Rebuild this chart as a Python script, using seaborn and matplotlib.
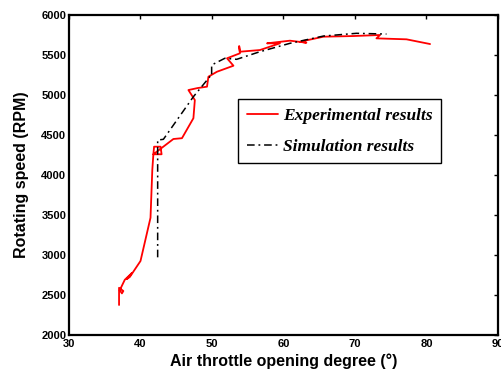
import matplotlib
matplotlib.use("Agg")
import matplotlib.pyplot as plt
import seaborn as sns
import pandas as pd

# Experimental results (red)
exp_x = [37.0, 37.0, 37.6, 37.4, 37.1, 37.8, 38.8, 38.1, 38.5, 40.0, 41.4, 41.65,
         41.8, 41.9, 42.8, 42.95, 41.8, 44.6, 45.8, 47.4, 47.6, 46.7, 48.0, 49.3,
         49.5, 50.7, 53.0, 52.1, 53.9, 53.8, 53.9, 56.7, 59.5, 57.7, 60.9, 63.2,
         62.3, 65.6, 69.8, 73.5, 73.0, 77.2, 80.5]
exp_y = [2375, 2590, 2550, 2520, 2560, 2690, 2775, 2700, 2725, 2925, 3466, 4062,
         4259, 4354, 4354, 4259, 4259, 4450, 4460, 4710, 4937, 5062, 5087, 5104,
         5229, 5291, 5366, 5459, 5521, 5612, 5541, 5562, 5646, 5646, 5679, 5654,
         5666, 5729, 5737, 5750, 5708, 5696, 5637]

# Simulation results (black dash-dot)
sim_x = [42.4, 42.4, 43.2, 47.4, 49.7, 49.95, 49.95, 51.8, 53.45, 56.7, 60.9,
         65.6, 70.2, 74.4]
sim_y = [2971, 4437, 4446, 4979, 5229, 5229, 5375, 5459, 5446, 5541, 5646,
         5737, 5771, 5762]

x_ticks = [30, 40, 50, 60, 70, 80, 90]
y_ticks = [2000, 2500, 3000, 3500, 4000, 4500, 5000, 5500, 6000]

sns.set_style("white")
plt.rcParams["text.color"] = "black"
plt.rcParams["axes.labelcolor"] = "black"
fig = plt.figure(figsize=(5.02, 3.73), dpi=100)
ax = fig.add_axes([69/502, 38/373, 429/502, 320/373])

df_exp = pd.DataFrame({"x": exp_x, "y": exp_y})
df_sim = pd.DataFrame({"x": sim_x, "y": sim_y})

sns.lineplot(data=df_exp, x="x", y="y", sort=False, estimator=None, ax=ax,
             color="#ff0000", linewidth=1.3, label="Experimental results")
sns.lineplot(data=df_sim, x="x", y="y", sort=False, estimator=None, ax=ax,
             color="black", linewidth=1.1, label="Simulation results")
ax.lines[1].set_dashes([5, 2.5, 1.2, 2.5])

ax.set_xlim(30, 90)
ax.set_ylim(2000, 6000)
ax.set_xticks(x_ticks)
ax.set_yticks(y_ticks)
ax.set_xticklabels([str(t) for t in x_ticks], fontsize=8, fontweight="bold",
                   family="Liberation Sans", color="black")
ax.set_yticklabels([str(t) for t in y_ticks], fontsize=8, fontweight="bold",
                   family="Liberation Sans", color="black")
ax.tick_params(direction="in", length=3, width=1, top=True, right=True,
               pad=2, colors="black")
ax.tick_params(axis="x", pad=3)
for s in ax.spines.values():
    s.set_color("black")
    s.set_linewidth(1.6)

ax.set_xlabel("Air throttle opening degree (°)", fontsize=11.5, fontweight="bold",
              family="Liberation Sans", labelpad=3, color="black")
ax.set_ylabel("Rotating speed (RPM)", fontsize=11.5, fontweight="bold",
              family="Liberation Sans", labelpad=9, color="black")

leg = ax.legend(loc="upper left", bbox_to_anchor=(0.394, 0.7375),
                prop={"family": "Liberation Serif", "weight": "bold",
                      "style": "italic", "size": 12.5},
                frameon=True, fancybox=False, framealpha=1, edgecolor="black",
                handlelength=1.8, handletextpad=0.3, labelspacing=0.85,
                borderpad=0.5, borderaxespad=0)
leg.get_frame().set_linewidth(1.0)
for t in leg.get_texts():
    t.set_color("black")

fig.savefig("out.png", dpi=100)
